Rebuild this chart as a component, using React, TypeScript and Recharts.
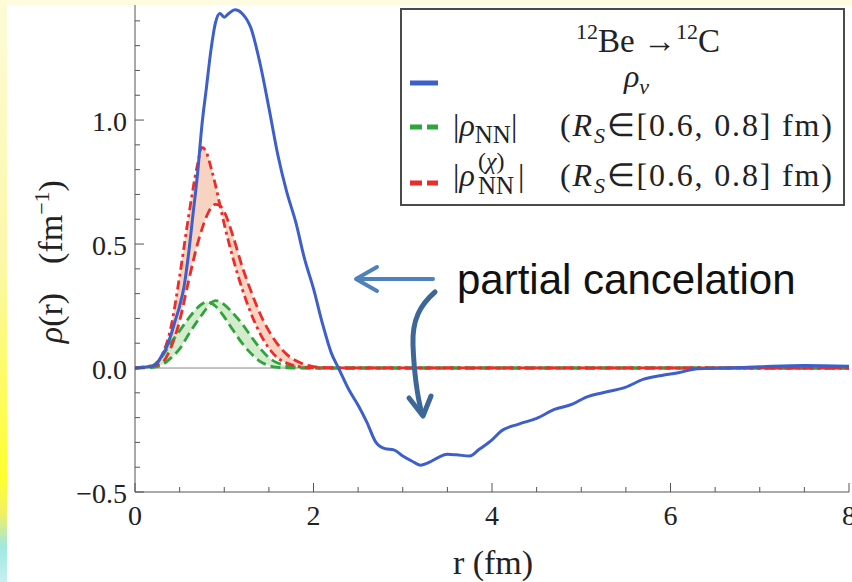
import { ComposedChart, Line, Area, XAxis, YAxis, ReferenceLine } from 'recharts';

// rho_nu transition density (blue curve)
const NU_R = [
  0, 0.1, 0.2, 0.25, 0.3, 0.35, 0.4, 0.45, 0.5, 0.55, 0.6, 0.65, 0.7, 0.75, 0.8, 0.85, 0.9, 0.95,
  1.0, 1.05, 1.12, 1.2, 1.3, 1.4, 1.5, 1.6, 1.7, 1.8, 1.9, 2.0, 2.1, 2.2, 2.28, 2.4, 2.5, 2.6, 2.7,
  2.8, 2.9, 3.0, 3.1, 3.2, 3.3, 3.4, 3.5, 3.6, 3.75, 3.85, 4.0, 4.1, 4.3, 4.5, 4.7, 4.9, 5.05, 5.3,
  5.5, 5.7, 5.9, 6.1, 6.3, 6.6, 7.0, 7.5, 8.0,
];
const NU_RHO = [
  0, 0.003, 0.008, 0.02, 0.05, 0.08, 0.13, 0.19, 0.25, 0.33, 0.46, 0.62, 0.78, 0.98, 1.13, 1.28, 1.39, 1.43,
  1.415, 1.43, 1.445, 1.43, 1.37, 1.23, 1.05, 0.86, 0.71, 0.59, 0.44, 0.32, 0.18, 0.06, 0.0, -0.09, -0.15, -0.22, -0.3,
  -0.325, -0.33, -0.355, -0.375, -0.392, -0.38, -0.36, -0.348, -0.35, -0.355, -0.33, -0.29, -0.255, -0.226, -0.203, -0.167, -0.146, -0.118, -0.095,
  -0.077, -0.045, -0.03, -0.018, -0.003, 0.0, 0.005, 0.01, 0.007,
];

// |rho_NN| bands, shared r grid
const BAND_R = [
  0, 0.1, 0.2, 0.3, 0.4, 0.5, 0.6, 0.7, 0.75, 0.8, 0.85, 0.9, 0.95, 1.0, 1.1, 1.2, 1.3, 1.4, 1.5,
  1.6, 1.7, 1.8, 1.9, 2.0, 2.2, 8.0,
];
const RED_RS06 = [
  0, 0.005, 0.01, 0.05, 0.16, 0.37, 0.61, 0.82, 0.89, 0.87, 0.81, 0.74, 0.66, 0.58, 0.44, 0.32, 0.22, 0.14, 0.08,
  0.04, 0.02, 0.008, 0.003, 0.001, 0, 0,
];
const RED_RS08 = [
  0, 0.003, 0.008, 0.02, 0.08, 0.19, 0.35, 0.5, 0.56, 0.61, 0.645, 0.66, 0.655, 0.63, 0.53, 0.41, 0.31, 0.22, 0.15,
  0.095, 0.055, 0.03, 0.014, 0.006, 0.001, 0,
];
const GREEN_RS06 = [
  0, 0.002, 0.01, 0.045, 0.1, 0.15, 0.2, 0.243, 0.258, 0.266, 0.262, 0.25, 0.23, 0.206, 0.152, 0.1, 0.059, 0.027, 0.01,
  0.003, 0.001, 0, 0, 0, 0, 0,
];
const GREEN_RS08 = [
  0, 0.001, 0.003, 0.012, 0.04, 0.077, 0.135, 0.19, 0.215, 0.24, 0.262, 0.272, 0.268, 0.256, 0.22, 0.178, 0.128, 0.08, 0.042,
  0.02, 0.01, 0.004, 0.001, 0, 0, 0,
];

const X_TICKS = [0, 0.5, 1, 1.5, 2, 2.5, 3, 3.5, 4, 4.5, 5, 5.5, 6, 6.5, 7, 7.5, 8];
const Y_TICKS = [-0.5, -0.4, -0.3, -0.2, -0.1, 0, 0.1, 0.2, 0.3, 0.4, 0.5, 0.6, 0.7, 0.8, 0.9, 1.0, 1.1, 1.2, 1.3, 1.4];

const BLUE = '#3d5fcc';
const RED = '#ec2b2b';
const GREEN = '#2ea53a';
const RED_FILL = '#f7cbb6';
const GREEN_FILL = '#cce8c6';
const FRAME = '#555';
const SERIF = '"Liberation Serif", "Times New Roman", serif';

const nuData = NU_R.map((r, i) => ({ r, nu: NU_RHO[i] }));
const bandData = BAND_R.map((r, i) => ({
  r,
  red06: RED_RS06[i],
  red08: RED_RS08[i],
  g06: GREEN_RS06[i],
  g08: GREEN_RS08[i],
  redBand: [Math.min(RED_RS06[i], RED_RS08[i]), Math.max(RED_RS06[i], RED_RS08[i])],
  greenBand: [Math.min(GREEN_RS06[i], GREEN_RS08[i]), Math.max(GREEN_RS06[i], GREEN_RS08[i])],
}));

const isMultiple = (v: number, step: number) => Math.abs(v / step - Math.round(v / step)) < 1e-6;

function BottomTick({ x, y, payload }: any) {
  const v = payload.value as number;
  const major = isMultiple(v, 2);
  return (
    <g>
      <line x1={x} x2={x} y1={y} y2={y - (major ? 9 : 5)} stroke={FRAME} />
      {major && (
        <text x={x} y={y + 33} textAnchor="middle" fontFamily={SERIF} fontSize={28} fill="#222">
          {v}
        </text>
      )}
    </g>
  );
}

function TopTick({ x, y, payload }: any) {
  const v = payload.value as number;
  if (!isMultiple(v, 2)) return <g />;
  return <line x1={x} x2={x} y1={y} y2={y + 8} stroke={FRAME} />;
}

function LeftTick({ x, y, payload }: any) {
  const v = payload.value as number;
  const major = isMultiple(v, 0.5);
  return (
    <g>
      <line x1={x} x2={x + (major ? 9 : 5)} y1={y} y2={y} stroke={FRAME} />
      {major && (
        <text x={x - 8} y={y + 11} textAnchor="end" fontFamily={SERIF} fontSize={28} fill="#222">
          {v.toFixed(1).replace('-', '\u2212')}
        </text>
      )}
    </g>
  );
}

function RightTick({ x, y, payload }: any) {
  const v = payload.value as number;
  const major = isMultiple(v, 0.5);
  return <line x1={x} x2={x - (major ? 9 : 5)} y1={y} y2={y} stroke={FRAME} />;
}

export default function App() {
  return (
    <div style={{ position: 'absolute', left: 0, top: 0, width: 852, height: 582, background: '#fff', overflow: 'hidden' }}>
      {/* slide background showing around the figure */}
      <div style={{ position: 'absolute', left: 0, top: 0, width: 852, height: 5, background: '#fffbe0' }} />
      <div
        style={{
          position: 'absolute', left: 0, top: 0, width: 7, height: 582,
          background: 'linear-gradient(#fdfbd8 0%, #fbf8a8 45%, #ffff30 82%, #f4f060 88%, #9fe8e0 94%, #c8f0f0 100%)',
        }}
      />
      <div style={{ position: 'absolute', left: 0, top: 0 }}>
        <ComposedChart width={852} height={582} data={bandData} margin={{ top: 5, right: 3, bottom: 0, left: 0 }}>
          <XAxis
            dataKey="r" type="number" domain={[0, 8]} ticks={X_TICKS} interval={0} allowDataOverflow
            height={90} tickSize={0} tickMargin={0} tickLine={false} stroke={FRAME} tick={<BottomTick />}
          />
          <XAxis
            xAxisId="top" orientation="top" dataKey="r" type="number" domain={[0, 8]} ticks={X_TICKS} interval={0}
            allowDataOverflow height={0} tickSize={0} tickMargin={0} tickLine={false} stroke={FRAME} tick={<TopTick />}
          />
          <YAxis
            type="number" domain={[-0.5, 1.464]} ticks={Y_TICKS} interval={0} allowDataOverflow
            width={135} tickSize={0} tickMargin={0} tickLine={false} stroke={FRAME} tick={<LeftTick />}
          />
          <YAxis
            yAxisId="right" orientation="right" type="number" domain={[-0.5, 1.464]} ticks={Y_TICKS} interval={0}
            allowDataOverflow width={0} tickSize={0} tickMargin={0} tickLine={false} stroke={FRAME} tick={<RightTick />}
          />
          <ReferenceLine y={0} stroke="#8a8a8a" strokeWidth={1} />
          <Area dataKey="redBand" type="monotone" fill={RED_FILL} fillOpacity={0.85} stroke="none" isAnimationActive={false} />
          <Area dataKey="greenBand" type="monotone" fill={GREEN_FILL} fillOpacity={0.85} stroke="none" isAnimationActive={false} />
          <Line dataKey="g06" type="monotone" stroke={GREEN} strokeWidth={2.8} strokeDasharray="10 5" dot={false} isAnimationActive={false} />
          <Line dataKey="g08" type="monotone" stroke={GREEN} strokeWidth={2.8} strokeDasharray="10 5" dot={false} isAnimationActive={false} />
          <Line dataKey="red08" type="monotone" stroke={RED} strokeWidth={2.8} strokeDasharray="10 5" dot={false} isAnimationActive={false} />
          <Line dataKey="red06" type="monotone" stroke={RED} strokeWidth={2.8} strokeDasharray="9 4 3 4" dot={false} isAnimationActive={false} />
          <Line data={nuData} dataKey="nu" type="monotone" stroke={BLUE} strokeWidth={3} dot={false} isAnimationActive={false} />
        </ComposedChart>
      </div>

      <svg width={852} height={582} style={{ position: 'absolute', left: 0, top: 0, pointerEvents: 'none' }}>
        {/* axis titles */}
        <text transform="translate(62,318) rotate(-90)" textAnchor="middle" fontFamily={SERIF} fontSize={34} fill="#222">
          <tspan fontStyle="italic">ρ</tspan>(r)
        </text>
        <text transform="translate(62,222) rotate(-90)" textAnchor="middle" fontFamily={SERIF} fontSize={34} fill="#222">
          (fm<tspan fontSize={22} dy={-13}>−1</tspan><tspan dy={13}>)</tspan>
        </text>
        <text x={493} y={574} textAnchor="middle" fontFamily={SERIF} fontSize={34} fill="#222">r (fm)</text>

        {/* legend */}
        <rect x={401} y={9} width={443} height={196} fill="#fff" stroke="#4a4a4a" strokeWidth={2} />
        <text x={648} y={52} textAnchor="middle" fontFamily={SERIF} fontSize={33} fill="#222">
          <tspan fontSize={22} dy={-13}>12</tspan>
          <tspan dy={13}>Be →</tspan>
          <tspan fontSize={22} dy={-13}>12</tspan>
          <tspan dy={13}>C</tspan>
        </text>
        <line x1={410} x2={438} y1={83} y2={83} stroke={BLUE} strokeWidth={5} />
        <text x={624} y={87} fontFamily={SERIF} fontSize={32} fill="#222">
          <tspan fontStyle="italic">ρ</tspan>
          <tspan fontSize={22} dy={7} fontStyle="italic">ν</tspan>
        </text>
        <line x1={410} x2={438} y1={127} y2={127} stroke={GREEN} strokeWidth={5} strokeDasharray="12 5" />
        <text x={453} y={136} fontFamily={SERIF} fontSize={32} fill="#222">
          |<tspan fontStyle="italic">ρ</tspan>
          <tspan fontSize={25} dy={7}>NN</tspan>
          <tspan dy={-7}>|</tspan>
        </text>
        <text x={560} y={136} fontFamily={SERIF} fontSize={32} fill="#222" textLength={272} lengthAdjust="spacing">
          (<tspan fontStyle="italic">R</tspan>
          <tspan fontSize={22} dy={7} fontStyle="italic">S</tspan>
          <tspan dy={-7}>∈[0.6, 0.8] fm)</tspan>
        </text>
        <line x1={410} x2={438} y1={183} y2={183} stroke={RED} strokeWidth={5} strokeDasharray="12 5" />
        <text x={453} y={186} fontFamily={SERIF} fontSize={32} fill="#222">
          |<tspan fontStyle="italic">ρ</tspan>
        </text>
        <text x={478} y={169} fontFamily={SERIF} fontSize={24} fill="#222">
          (<tspan fontStyle="italic">χ</tspan>)
        </text>
        <text x={478} y={194} fontFamily={SERIF} fontSize={25} fill="#222">NN</text>
        <text x={518} y={186} fontFamily={SERIF} fontSize={32} fill="#222">|</text>
        <text x={560} y={186} fontFamily={SERIF} fontSize={32} fill="#222" textLength={272} lengthAdjust="spacing">
          (<tspan fontStyle="italic">R</tspan>
          <tspan fontSize={22} dy={7} fontStyle="italic">S</tspan>
          <tspan dy={-7}>∈[0.6, 0.8] fm)</tspan>
        </text>

        {/* annotation */}
        <line x1={433} y1={279} x2={358} y2={279} stroke="#4f81bd" strokeWidth={4} strokeLinecap="round" />
        <polyline points="377,267 356,279 377,291" fill="none" stroke="#4f81bd" strokeWidth={4} strokeLinecap="round" strokeLinejoin="round" />
        <path d="M 435 292 C 420 305, 412 320, 413 345 C 414 370, 417 395, 422 414" fill="none" stroke="#3d6796" strokeWidth={5} strokeLinecap="round" />
        <polyline points="409,398 423,416 431,396" fill="none" stroke="#3d6796" strokeWidth={5} strokeLinecap="round" strokeLinejoin="round" />
        <text x={457} y={294} fontFamily='"Liberation Sans", Arial, sans-serif' fontSize={42} fill="#111">partial cancelation</text>
      </svg>
    </div>
  );
}
